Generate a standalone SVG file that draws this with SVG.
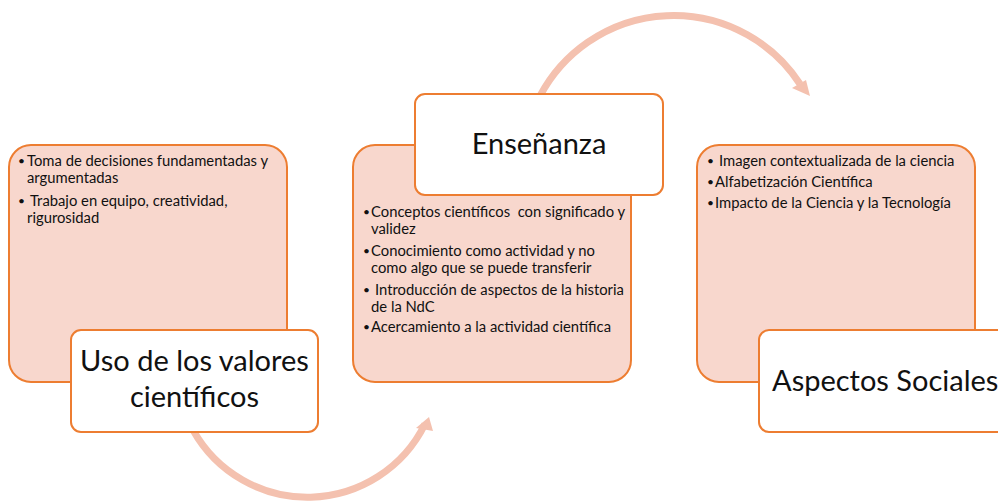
<svg xmlns="http://www.w3.org/2000/svg" width="998" height="504" viewBox="0 0 998 504">
<defs>
<style>
.panel{fill:#F8D7CD;stroke:#ED7D31;stroke-width:2}
.label{fill:#FFFFFF;stroke:#ED7D31;stroke-width:2}
.arc{fill:none;stroke:#F4C1AF;stroke-width:7}
.head{fill:#F4C1AF}
.b{font-family:Lato,"Open Sans",sans-serif;font-size:14.8px;fill:#111;white-space:pre}
.d{font-family:Lato,"Open Sans",sans-serif;font-size:12px;fill:#111}
.t{font-family:Lato,"Open Sans",sans-serif;font-size:29px;fill:#111}
</style>
</defs>
<rect width="998" height="504" fill="#FFFFFF"/>
<g id="connectors">
<path class="arc" d="M 540 96 A 151 151 0 0 1 800 84"/>
<polygon class="head" points="810,96 792,88 806,80"/>
<path class="arc" d="M 193 430 A 131 131 0 0 0 425 424"/>
<polygon class="head" points="433,431 416,428 429,417"/>
</g>
<g id="node-valores">
<rect class="panel" x="9" y="145" width="278" height="237" rx="22"/>
<text class="d" x="18" y="165">•</text>
<text class="b" x="27" y="166">Toma de decisiones fundamentadas y</text>
<text class="b" x="27" y="183">argumentadas</text>
<text class="d" x="18" y="205">•</text>
<text class="b" x="30" y="206">Trabajo en equipo, creatividad,</text>
<text class="b" x="27" y="223">rigurosidad</text>
<rect class="label" x="71" y="330" width="247" height="102" rx="10"/>
<text class="t" x="194.5" y="371" text-anchor="middle">Uso de los valores</text>
<text class="t" x="194.5" y="407" text-anchor="middle">científicos</text>
</g>
<g id="node-ensenanza">
<rect class="panel" x="353" y="145" width="278" height="237" rx="22"/>
<text class="d" x="363" y="216">•</text>
<text class="b" x="371" y="217" xml:space="preserve">Conceptos científicos  con significado y</text>
<text class="b" x="371" y="234">validez</text>
<text class="d" x="363" y="255">•</text>
<text class="b" x="371" y="256">Conocimiento como actividad y no</text>
<text class="b" x="371" y="273">como algo que se puede transferir</text>
<text class="d" x="363" y="294">•</text>
<text class="b" x="375" y="295">Introducción de aspectos de la historia</text>
<text class="b" x="371" y="312">de la NdC</text>
<text class="d" x="363" y="331">•</text>
<text class="b" x="371" y="332">Acercamiento a la actividad científica</text>
<rect class="label" x="415" y="94" width="248" height="101" rx="10"/>
<text class="t" x="539" y="154" text-anchor="middle">Enseñanza</text>
</g>
<g id="node-sociales">
<rect class="panel" x="697" y="145" width="278" height="237" rx="22"/>
<text class="d" x="707" y="165">•</text>
<text class="b" x="719" y="166">Imagen contextualizada de la ciencia</text>
<text class="d" x="707" y="186">•</text>
<text class="b" x="715" y="187">Alfabetización Científica</text>
<text class="d" x="707" y="207">•</text>
<text class="b" x="715" y="208">Impacto de la Ciencia y la Tecnología</text>
<rect class="label" x="759" y="330" width="250" height="102" rx="10"/>
<text class="t" x="772" y="391">Aspectos Sociales</text>
</g>
</svg>
